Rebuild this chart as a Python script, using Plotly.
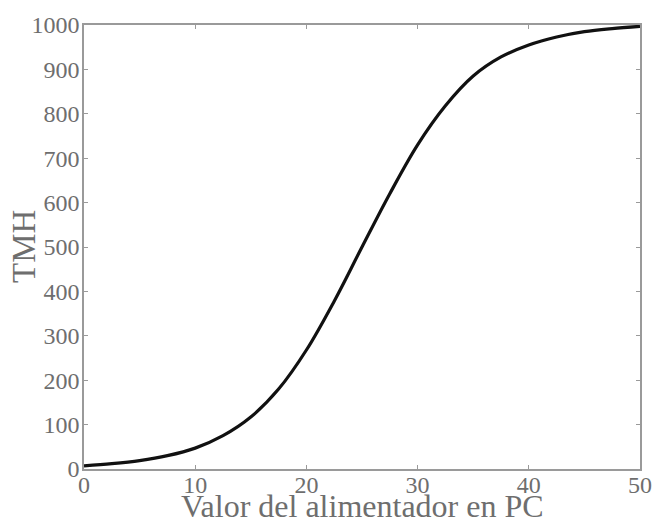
import plotly.graph_objects as go

# Data
alimentador = [0, 2.5, 5, 7.5, 10, 12.5, 15, 17.5, 20, 22.5, 25, 27.5, 30,
               32.5, 35, 37.5, 40, 42.5, 45, 47.5, 50]
tmh = [7, 12, 19, 30, 47, 75, 117, 180, 268, 378, 500, 620, 730,
       818, 885, 928, 955, 973, 985, 992, 997]

x_ticks = [0, 10, 20, 30, 40, 50]
y_ticks = [0, 100, 200, 300, 400, 500, 600, 700, 800, 900, 1000]
x_title = "Valor del alimentador en PC"
y_title = "TMH"

FONT = "Liberation Serif"
GREY = "#6e6e6e"
AXIS = "#9a9a9a"

fig = go.Figure()
fig.add_trace(go.Scatter(
    x=alimentador, y=tmh, mode="lines",
    line=dict(color="#111111", width=3.2, shape="spline", smoothing=1.0),
    showlegend=False, hoverinfo="skip"))

axis_common = dict(
    showgrid=False, zeroline=False, showline=True, linecolor=AXIS, linewidth=1.5,
    mirror="ticks", ticks="inside", ticklen=4, tickcolor=AXIS, tickwidth=1,
    tickfont=dict(family=FONT, size=24, color=GREY),
)

fig.update_xaxes(range=[0, 50], tickvals=x_ticks, ticktext=[str(v) for v in x_ticks],
                 ticklabelstandoff=-7, **axis_common)
fig.update_yaxes(range=[0, 1000], tickvals=y_ticks, ticktext=[str(v) for v in y_ticks],
                 ticklabelstandoff=-2, **axis_common)

fig.update_layout(
    width=664, height=521,
    margin=dict(l=84, r=14, t=21, b=52),
    paper_bgcolor="white", plot_bgcolor="white",
    annotations=[
        dict(text=x_title, xref="paper", yref="paper", x=0.5, y=0,
             yshift=-17, xanchor="center", yanchor="top", showarrow=False,
             font=dict(family=FONT, size=32, color=GREY)),
        dict(text=y_title, xref="paper", yref="paper", x=0, y=0.5,
             xshift=-60, xanchor="center", yanchor="middle", textangle=-90,
             showarrow=False, font=dict(family=FONT, size=33, color=GREY)),
    ],
)

fig.write_html("out.html")
